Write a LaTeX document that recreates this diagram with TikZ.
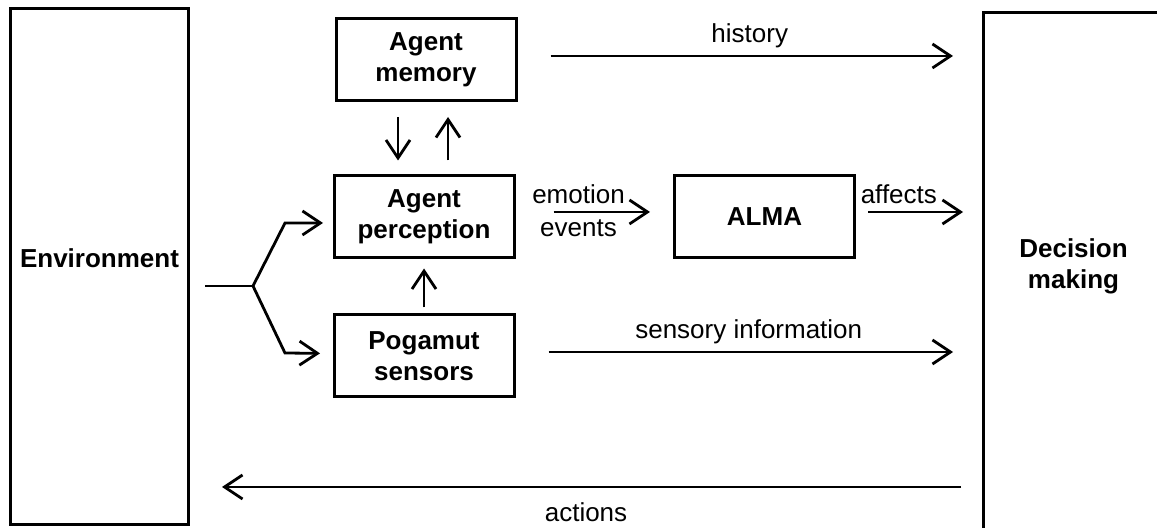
\documentclass[tikz,border=0pt]{standalone}
\usepackage{fontspec}
\setmainfont{Liberation Sans}
\usetikzlibrary{arrows.meta, positioning}

\begin{document}
\begin{tikzpicture}[
			x=0.5pt, y=-0.5pt,
			font=\fontsize{13}{15}\selectfont,
			>={Straight Barb[length=9pt, width=12pt]},
			box/.style={draw, line width=1.5pt, align=center, inner sep=0pt,
				font=\fontsize{13}{15.5}\selectfont\bfseries,
				minimum width=90pt, minimum height=41pt},
			tall/.style={box, minimum width=89pt, minimum height=258pt, text depth=8pt},
			flow/.style={->, line width=1.4pt}]
		\useasboundingbox (0,0) rectangle (1157,528);
		\clip (0,0) rectangle (1157,528);

		\node[tall]                        (env)  at (99.5,266.5)   {Environment};
		\node[tall, minimum width=90pt, minimum height=259pt] (dec) at (1073.5,271.5) {Decision\\making};

		\node[box]                                     (mem)  at (426,60) {Agent\\memory};
		\node[box, below=36pt of mem, xshift=-1pt]     (perc) {Agent\\perception};
		\node[box, below=27pt of perc]                 (pog)  {Pogamut\\sensors};
		\node[box, right=78.75pt of perc]              (alma) {ALMA};

		% split from the environment
		\coordinate (fork in) at (205,286);
		\coordinate (fork)    at (253,286);
		\coordinate (act)     at (600,487);
		\draw[line width=1.4pt] (fork in) -- (fork);
		\draw[flow, shorten >=4.75pt] (fork) -- ++(32,-63) -- ([yshift=-3pt]perc.west);
		\draw[flow, shorten >=6.25pt] (fork) -- ++(32,67) -- ([yshift=1.25pt]pog.west);

		\draw[flow, shorten <=7.25pt, shorten >=7pt] ([xshift=-14pt]mem.south) -- ([xshift=-14pt]mem.south |- perc.north);
		\draw[flow, shorten <=7pt, shorten >=7.25pt] ([xshift=11pt]mem.south |- perc.north) -- ([xshift=11pt]mem.south);
		\draw[flow, shorten <=3pt, shorten >=4.5pt] (pog.north) -- (perc.south);

		\foreach \from/\lbl in {mem/history, pog/sensory information}
			\draw[flow, shorten <=16.5pt, shorten >=14.5pt] ([yshift=2pt]\from.east) -- ([yshift=2pt]\from.east -| dec.west)
				node[midway, above] {\lbl};

		\draw[flow, shorten <=19pt, shorten >=11.5pt] ([yshift=2.5pt]perc.east) -- ([yshift=2.5pt]perc.east -| alma.west)
			node[pos=0.4, above] {emotion} node[pos=0.4, below] {events};
		\draw[flow, shorten <=6pt, shorten >=9.5pt] ([yshift=2.5pt]alma.east) -- ([yshift=2.5pt]alma.east -| dec.west)
			node[pos=0.34, above] {affects};
		\draw[flow, shorten <=10.5pt, shorten >=16pt] (dec.west |- act) -- (env.east |- act)
			node[midway, below=4pt] {actions};
	\end{tikzpicture}
\end{document}
